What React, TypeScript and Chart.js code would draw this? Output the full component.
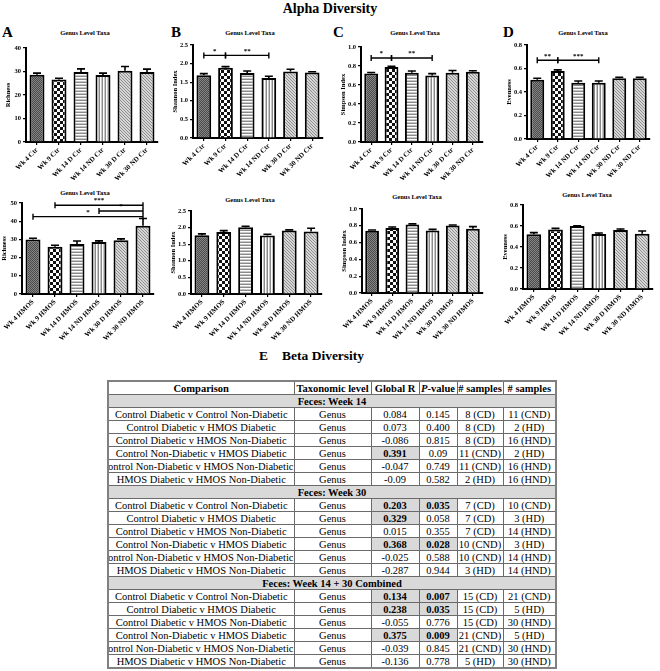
import React, { useEffect, useRef } from "react";
import { Chart, registerables } from "chart.js";
Chart.register(...registerables);

// ---------- DATA ----------
const ctrLabels = ["Wk 4 Ctr", "Wk 9 Ctr", "Wk 14 D Ctr", "Wk 14 ND Ctr", "Wk 30 D Ctr", "Wk 30 ND Ctr"];
const evenCtrLabels = ["Wk 4 Ctr", "Wk 9 Ctr", "Wk 14 ND Ctr", "Wk 14 ND Ctr", "Wk 30 ND Ctr", "Wk 30 ND Ctr"];
const hmosLabels = ["Wk 4 HMOS", "Wk 9 HMOS", "Wk 14 D HMOS", "Wk 14 ND HMOS", "Wk 30 D HMOS", "Wk 30 ND HMOS"];

const richnessCtr = [28.6, 26.6, 29.8, 28.5, 30.3, 29.8];
const richnessCtrErr = [0.7, 0.5, 1.3, 0.8, 1.8, 1.2];
const shannonCtr = [1.69, 1.89, 1.75, 1.61, 1.79, 1.76];
const shannonCtrErr = [0.04, 0.03, 0.05, 0.05, 0.06, 0.02];
const simpsonCtr = [0.72, 0.79, 0.73, 0.70, 0.73, 0.74];
const simpsonCtrErr = [0.012, 0.008, 0.018, 0.02, 0.022, 0.01];
const evennessCtr = [0.505, 0.578, 0.478, 0.478, 0.517, 0.517];
const evennessCtrErr = [0.012, 0.01, 0.016, 0.016, 0.008, 0.008];

const richnessHmos = [30.0, 26.0, 27.5, 28.6, 29.6, 37.5];
const richnessHmosErr = [0.6, 0.8, 1.6, 0.6, 0.7, 4.0];
const shannonHmos = [1.77, 1.87, 2.01, 1.76, 1.91, 1.88];
const shannonHmosErr = [0.04, 0.04, 0.03, 0.04, 0.02, 0.1];
const simpsonHmos = [0.74, 0.775, 0.815, 0.745, 0.805, 0.765];
const simpsonHmosErr = [0.01, 0.01, 0.008, 0.012, 0.004, 0.025];
const evennessHmos = [0.522, 0.567, 0.6, 0.525, 0.562, 0.527];
const evennessHmosErr = [0.015, 0.01, 0.003, 0.008, 0.01, 0.025];

// significance brackets: [from index, to index, y value, label]
const shannonCtrSig: [number, number, number, string][] = [[0, 1, 2.22, "*"], [1, 3, 2.22, "**"]];
const simpsonCtrSig: [number, number, number, string][] = [[0, 1, 0.885, "*"], [1, 3, 0.885, "**"]];
const evennessCtrSig: [number, number, number, string][] = [[0, 1, 0.67, "**"], [1, 3, 0.67, "***"]];
const richnessHmosSig: [number, number, number, string][] = [[1, 5, 48.8, "***"], [3, 5, 45.6, "*"], [0, 5, 42.5, "*"]];

// Beta diversity table
const sections = ["Feces: Week 14", "Feces: Week 30", "Feces: Week 14 + 30 Combined"];
const comparisons = [
  "Control Diabetic v Control Non-Diabetic",
  "Control Diabetic v HMOS Diabetic",
  "Control Diabetic v HMOS Non-Diabetic",
  "Control Non-Diabetic v HMOS Diabetic",
  "Control Non-Diabetic v HMOS Non-Diabetic",
  "HMOS Diabetic v HMOS Non-Diabetic",
];
const globalR = [
  ["0.084", "0.073", "-0.086", "0.391", "-0.047", "-0.09"],
  ["0.203", "0.329", "0.015", "0.368", "-0.025", "-0.287"],
  ["0.134", "0.238", "-0.055", "0.375", "-0.039", "-0.136"],
];
const pValues = [
  ["0.145", "0.400", "0.815", "0.09", "0.749", "0.582"],
  ["0.035", "0.058", "0.355", "0.028", "0.588", "0.944"],
  ["0.007", "0.035", "0.776", "0.009", "0.845", "0.778"],
];
const samplesA = [
  ["8 (CD)", "8 (CD)", "8 (CD)", "11 (CND)", "11 (CND)", "2 (HD)"],
  ["7 (CD)", "7 (CD)", "7 (CD)", "10 (CND)", "10 (CND)", "3 (HD)"],
  ["15 (CD)", "15 (CD)", "15 (CD)", "21 (CND)", "21 (CND)", "5 (HD)"],
];
const samplesB = [
  ["11 (CND)", "2 (HD)", "16 (HND)", "2 (HD)", "16 (HND)", "16 (HND)"],
  ["10 (CND)", "3 (HD)", "14 (HND)", "3 (HD)", "14 (HND)", "14 (HND)"],
  ["21 (CND)", "5 (HD)", "30 (HND)", "5 (HD)", "30 (HND)", "30 (HND)"],
];

// ---------- STYLE ----------
const SERIF = "'Liberation Serif', 'Times New Roman', serif";

function makePattern(kind: string): CanvasPattern | string {
  const c = document.createElement("canvas");
  const ctx = c.getContext("2d");
  if (!ctx) return "#888";
  if (kind === "dense") {
    c.width = 2; c.height = 2;
    ctx.fillStyle = "#4a4a4a"; ctx.fillRect(0, 0, 2, 2);
    ctx.fillStyle = "#858585"; ctx.fillRect(0, 0, 1, 1); ctx.fillRect(1, 1, 1, 1);
  } else if (kind === "checker") {
    c.width = 6; c.height = 6;
    ctx.fillStyle = "#111"; ctx.fillRect(0, 0, 6, 6);
    ctx.fillStyle = "#fff"; ctx.fillRect(0, 0, 3, 3); ctx.fillRect(3, 3, 3, 3);
  } else if (kind === "hstripe") {
    c.width = 1; c.height = 3;
    ctx.fillStyle = "#fff"; ctx.fillRect(0, 0, 1, 3);
    ctx.fillStyle = "#8a8a8a"; ctx.fillRect(0, 0, 1, 1);
    ctx.fillStyle = "#c8c8c8"; ctx.fillRect(0, 2, 1, 1);
  } else if (kind === "vstripe") {
    c.width = 3; c.height = 1;
    ctx.fillStyle = "#fff"; ctx.fillRect(0, 0, 3, 1);
    ctx.fillStyle = "#8a8a8a"; ctx.fillRect(0, 0, 1, 1);
    ctx.fillStyle = "#c8c8c8"; ctx.fillRect(2, 0, 1, 1);
  } else {
    c.width = 3; c.height = 3;
    ctx.fillStyle = "#d6d6d6"; ctx.fillRect(0, 0, 3, 3);
    ctx.fillStyle = "#8e8e8e";
    ctx.fillRect(0, 0, 1, 1); ctx.fillRect(1, 1, 1, 1); ctx.fillRect(2, 2, 1, 1);
  }
  return ctx.createPattern(c, "repeat") || "#888";
}

type Panel = {
  labels: string[];
  values: number[];
  errors: number[];
  yTitle: string;
  yMax: number;
  yStep: number;
  decimals: number;
  sig: [number, number, number, string][];
  L: number; T: number; R: number; B: number;
};

const panels: Panel[] = [
  { labels: ctrLabels, values: richnessCtr, errors: richnessCtrErr, yTitle: "Richness", yMax: 40, yStep: 10, decimals: 0, sig: [], L: 26, T: 48, R: 158, B: 142 },
  { labels: ctrLabels, values: shannonCtr, errors: shannonCtrErr, yTitle: "Shannon Index", yMax: 2.5, yStep: 0.5, decimals: 1, sig: shannonCtrSig, L: 193, T: 45, R: 323, B: 138 },
  { labels: ctrLabels, values: simpsonCtr, errors: simpsonCtrErr, yTitle: "Simpson Index", yMax: 1.0, yStep: 0.2, decimals: 1, sig: simpsonCtrSig, L: 361, T: 47, R: 483, B: 142 },
  { labels: evenCtrLabels, values: evennessCtr, errors: evennessCtrErr, yTitle: "Evenness", yMax: 0.8, yStep: 0.2, decimals: 1, sig: evennessCtrSig, L: 527, T: 45, R: 650, B: 139 },
  { labels: hmosLabels, values: richnessHmos, errors: richnessHmosErr, yTitle: "Richness", yMax: 50, yStep: 10, decimals: 0, sig: richnessHmosSig, L: 22, T: 203, R: 154, B: 294 },
  { labels: hmosLabels, values: shannonHmos, errors: shannonHmosErr, yTitle: "Shannon Index", yMax: 2.5, yStep: 0.5, decimals: 1, sig: [], L: 191, T: 211, R: 322, B: 294 },
  { labels: hmosLabels, values: simpsonHmos, errors: simpsonHmosErr, yTitle: "Simpson Index", yMax: 1.0, yStep: 0.2, decimals: 1, sig: [], L: 362, T: 209, R: 483, B: 293 },
  { labels: hmosLabels, values: evennessHmos, errors: evennessHmosErr, yTitle: "Evenness", yMax: 0.8, yStep: 0.2, decimals: 1, sig: [], L: 523, T: 205, R: 653, B: 289 },
];

const subtitles: [number, number][] = [[85, 33], [250, 33], [415, 33], [583, 33], [85, 193], [250, 200], [417, 197], [587, 195]];

const YW = 26, PT = 8, PR = 6, XH = 52;

function BarPanel({ p }: { p: Panel }) {
  const ref = useRef<HTMLCanvasElement>(null);
  useEffect(() => {
    if (!ref.current) return;
    const fills = ["dense", "checker", "hstripe", "vstripe", "diag", "diag"].map(makePattern);
    const overlay = {
      id: "errAndSig",
      afterDatasetsDraw(chart: any) {
        const ctx = chart.ctx;
        const ys = chart.scales.y;
        const xs = chart.scales.x;
        const meta = chart.getDatasetMeta(0);
        ctx.save();
        ctx.strokeStyle = "#000";
        ctx.lineWidth = 1.6;
        meta.data.forEach((bar: any, i: number) => {
          const y0 = ys.getPixelForValue(p.values[i]);
          const y1 = ys.getPixelForValue(p.values[i] + p.errors[i]);
          ctx.beginPath();
          ctx.moveTo(bar.x, y0);
          ctx.lineTo(bar.x, y1);
          ctx.moveTo(bar.x - 4, y1);
          ctx.lineTo(bar.x + 4, y1);
          ctx.stroke();
        });
        p.sig.forEach(([a, b, v, txt]) => {
          const xa = xs.getPixelForValue(a);
          const xb = xs.getPixelForValue(b);
          const y = ys.getPixelForValue(v);
          ctx.lineWidth = 1.4;
          ctx.beginPath();
          ctx.moveTo(xa, y); ctx.lineTo(xb, y);
          ctx.moveTo(xa, y - 3); ctx.lineTo(xa, y + 3);
          ctx.moveTo(xb, y - 3); ctx.lineTo(xb, y + 3);
          ctx.stroke();
          ctx.fillStyle = "#000";
          ctx.font = `bold 7px ${SERIF}`;
          ctx.textAlign = "center";
          ctx.textBaseline = "bottom";
          ctx.fillText(txt, (xa + xb) / 2, y - 1);
        });
        ctx.restore();
      },
    };
    const chart = new Chart(ref.current, {
      type: "bar",
      data: {
        labels: p.labels,
        datasets: [{
          data: p.values,
          backgroundColor: fills as any,
          borderColor: "#000",
          borderWidth: 2,
          barPercentage: 0.68,
          categoryPercentage: 1,
        }],
      },
      options: {
        animation: false,
        responsive: false,
        maintainAspectRatio: false,
        devicePixelRatio: 1,
        layout: { padding: { top: PT, right: PR, left: 0, bottom: 0 }, autoPadding: false } as any,
        plugins: { legend: { display: false }, tooltip: { enabled: false }, title: { display: false } },
        scales: {
          x: {
            grid: { display: true, drawOnChartArea: false, drawTicks: true, tickLength: 3, offset: false, color: "#000", lineWidth: 1.2 },
            border: { display: true, color: "#000", width: 2 },
            ticks: { minRotation: 45, maxRotation: 45, autoSkip: false, color: "#000", padding: 1, font: { family: SERIF, size: 7, weight: "bold" } },
            afterFit: (s: any) => { s.height = XH; },
          },
          y: {
            min: 0,
            max: p.yMax,
            ticks: {
              stepSize: p.yStep,
              color: "#000",
              padding: 2,
              font: { family: SERIF, size: 6.5, weight: "bold" },
              callback: (v: any) => Number(v).toFixed(p.decimals),
            },
            grid: { display: true, drawOnChartArea: false, drawTicks: true, tickLength: 3, color: "#000", lineWidth: 1.2 },
            border: { display: true, color: "#000", width: 2 },
            title: { display: true, text: p.yTitle, color: "#000", padding: { top: 4, bottom: 0 }, font: { family: SERIF, size: 6.5, weight: "bold" } },
            afterFit: (s: any) => { s.width = YW; },
          },
        },
      } as any,
      plugins: [overlay],
    });
    return () => chart.destroy();
  }, []);
  const w = p.R - p.L + YW + PR;
  const h = p.B - p.T + PT + XH;
  return (
    <canvas
      ref={ref}
      width={w}
      height={h}
      style={{ position: "absolute", left: p.L - YW, top: p.T - PT, width: w, height: h }}
    />
  );
}

const abs = (x: number, y: number): React.CSSProperties => ({ position: "absolute", left: x, top: y });

function Centered({ x, y, size, children, weight = "bold" }: any) {
  return (
    <div style={{ position: "absolute", left: x - 150, top: y - size * 0.6, width: 300, textAlign: "center", fontFamily: SERIF, fontSize: size, fontWeight: weight, lineHeight: `${size * 1.2}px`, whiteSpace: "nowrap", color: "#000" }}>
      {children}
    </div>
  );
}

const colW = [186, 77, 48, 38, 46, 53];
const ROW_H = 13;
const cellBase: React.CSSProperties = {
  border: "1px solid #6a6a6a",
  padding: 0,
  height: ROW_H - 1,
  fontFamily: SERIF,
  fontSize: 10.5,
  lineHeight: "11px",
  textAlign: "center",
  whiteSpace: "nowrap",
  overflow: "hidden",
  color: "#000",
};
const HL = "#d9d9d9";

function Cell({ children, bold = false, bg = "#fff", alignEnd = false }: any) {
  return (
    <td style={{ ...cellBase, fontWeight: bold ? "bold" : "normal", background: bg }}>
      <div style={{ display: "flex", justifyContent: alignEnd ? "flex-end" : "center", overflow: "hidden", whiteSpace: "nowrap" }}>{children}</div>
    </td>
  );
}

function BetaTable() {
  return (
    <table style={{ position: "absolute", left: 107, top: 380, width: 448, borderCollapse: "collapse", tableLayout: "fixed", border: "2px solid #808080" }}>
      <colgroup>
        {colW.map((w, i) => <col key={i} style={{ width: w }} />)}
      </colgroup>
      <tbody>
        <tr>
          <Cell bold>Comparison</Cell>
          <Cell bold>Taxonomic level</Cell>
          <Cell bold>Global R</Cell>
          <Cell bold><span><i>P</i>-value</span></Cell>
          <Cell bold># samples</Cell>
          <Cell bold># samples</Cell>
        </tr>
        {sections.map((sec, s) => (
          <React.Fragment key={s}>
            <tr>
              <td colSpan={6} style={{ ...cellBase, fontWeight: "bold", background: HL }}>{sec}</td>
            </tr>
            {comparisons.map((c, i) => {
              const r = parseFloat(globalR[s][i]);
              const pv = parseFloat(pValues[s][i]);
              const rHi = r >= 0.1;
              const pHi = pv < 0.05;
              return (
                <tr key={i}>
                  <Cell alignEnd={c.length > 39}>{c}</Cell>
                  <Cell>Genus</Cell>
                  <Cell bold={rHi} bg={rHi ? HL : "#fff"}>{globalR[s][i]}</Cell>
                  <Cell bold={pHi} bg={pHi ? HL : "#fff"}>{pValues[s][i]}</Cell>
                  <Cell>{samplesA[s][i]}</Cell>
                  <Cell>{samplesB[s][i]}</Cell>
                </tr>
              );
            })}
          </React.Fragment>
        ))}
      </tbody>
    </table>
  );
}

export default function App() {
  return (
    <div style={{ position: "absolute", left: 0, top: 0, width: 660, height: 671, background: "#fff", overflow: "hidden" }}>
      <Centered x={330} y={9} size={14}>Alpha Diversity</Centered>
      <div style={{ ...abs(2, 24), fontFamily: SERIF, fontWeight: "bold", fontSize: 15 }}>A</div>
      <div style={{ ...abs(171, 24), fontFamily: SERIF, fontWeight: "bold", fontSize: 15 }}>B</div>
      <div style={{ ...abs(333, 24), fontFamily: SERIF, fontWeight: "bold", fontSize: 15 }}>C</div>
      <div style={{ ...abs(503, 24), fontFamily: SERIF, fontWeight: "bold", fontSize: 15 }}>D</div>
      {subtitles.map(([x, y], i) => (
        <Centered key={i} x={x} y={y} size={6.5}>Genus Level Taxa</Centered>
      ))}
      {panels.map((p, i) => <BarPanel key={i} p={p} />)}
      <div style={{ ...abs(259, 348), fontFamily: SERIF, fontWeight: "bold", fontSize: 13.5, whiteSpace: "nowrap" }}>
        E<span style={{ marginLeft: 14 }}>Beta Diversity</span>
      </div>
      <BetaTable />
    </div>
  );
}
